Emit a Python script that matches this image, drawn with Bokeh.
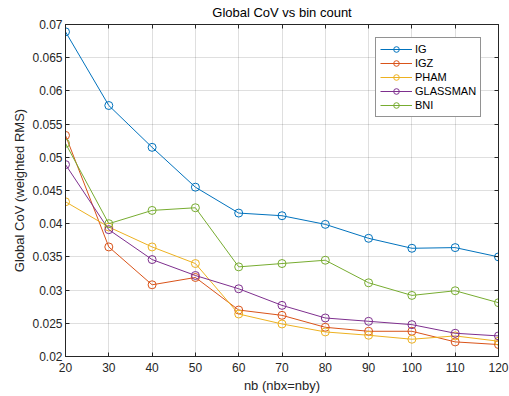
from bokeh.plotting import figure
from bokeh.models import LinearAxis, FixedTicker, CustomJSTickFormatter, Legend, LegendItem, Range1d
from bokeh.embed import file_html
from bokeh.resources import INLINE

nb = [20, 30, 40, 50, 60, 70, 80, 90, 100, 110, 120]
ig = [0.0689, 0.0578, 0.0515, 0.0455, 0.0416, 0.0412, 0.0399, 0.0378, 0.0363, 0.0364, 0.0350]
igz = [0.0533, 0.0365, 0.0308, 0.0319, 0.0270, 0.0262, 0.0244, 0.0238, 0.0238, 0.0222, 0.0218]
pham = [0.0433, 0.0395, 0.0365, 0.0340, 0.0264, 0.0249, 0.0237, 0.0232, 0.0226, 0.0231, 0.0223]
glassman = [0.0489, 0.0391, 0.0346, 0.0322, 0.0302, 0.0277, 0.0258, 0.0253, 0.0248, 0.0235, 0.0231]
bni = [0.0521, 0.0400, 0.0420, 0.0424, 0.0335, 0.0340, 0.0345, 0.0311, 0.0292, 0.0299, 0.0281]

series_names = ["IG", "IGZ", "PHAM", "GLASSMAN", "BNI"]
series_values = [ig, igz, pham, glassman, bni]
colors = ["#0072BD", "#D95319", "#EDB120", "#7E2F8E", "#77AC30"]

x_ticks = [20, 30, 40, 50, 60, 70, 80, 90, 100, 110, 120]
y_ticks = [0.02, 0.025, 0.03, 0.035, 0.04, 0.045, 0.05, 0.055, 0.06, 0.065, 0.07]

FONT = "Liberation Sans"
DARK = "#262626"

p = figure(width=509, height=396, output_backend="svg", toolbar_location=None,
           x_range=Range1d(20, 120), y_range=Range1d(0.02, 0.07),
           min_border_left=65, min_border_right=11, min_border_top=24, min_border_bottom=40)
p.title.text = "Global CoV vs bin count"
p.title.align = "center"
p.title.vertical_align = "top"
p.title.text_font = FONT
p.title.text_font_size = "13px"
p.title.text_font_style = "normal"
p.title.text_color = "#000000"
p.title.standoff = 6
p.outline_line_color = DARK
p.outline_line_width = 1

fmt = CustomJSTickFormatter(code="return tick.toFixed(3).replace(/0+$/, '');")

for ax in [p.xaxis[0], p.yaxis[0]]:
    ax.major_tick_in = 4
    ax.major_tick_out = 0
    ax.minor_tick_in = 0
    ax.minor_tick_out = 0
    ax.axis_line_color = DARK
    ax.major_tick_line_color = DARK
    ax.major_label_text_font = FONT
    ax.major_label_text_font_size = "12px"
    ax.major_label_text_color = DARK
    ax.axis_label_text_font = FONT
    ax.axis_label_text_font_size = "13px"
    ax.axis_label_text_font_style = "normal"
    ax.axis_label_text_color = DARK

p.xaxis[0].ticker = FixedTicker(ticks=x_ticks)
p.yaxis[0].ticker = FixedTicker(ticks=y_ticks)
p.yaxis[0].formatter = fmt
p.xaxis[0].axis_label = "nb (nbx=nby)"
p.yaxis[0].axis_label = "Global CoV (weighted RMS)"
p.xaxis[0].major_label_standoff = 6
p.yaxis[0].major_label_standoff = 3
p.xaxis[0].axis_label_standoff = 3
p.yaxis[0].axis_label_standoff = 2

for loc, ticks in [("right", y_ticks), ("above", x_ticks)]:
    ax = LinearAxis(ticker=FixedTicker(ticks=ticks))
    ax.major_tick_in = 4
    ax.major_tick_out = 0
    ax.minor_tick_in = 0
    ax.minor_tick_out = 0
    ax.axis_line_color = DARK
    ax.major_tick_line_color = DARK
    ax.major_label_text_font_size = "0px"
    ax.major_label_standoff = 0
    ax.major_label_text_alpha = 0
    p.add_layout(ax, loc)

p.xgrid.ticker = FixedTicker(ticks=x_ticks)
p.ygrid.ticker = FixedTicker(ticks=y_ticks)
p.grid.grid_line_color = DARK
p.grid.grid_line_alpha = 0.15

items = []
for name, vals, c in zip(series_names, series_values, colors):
    l = p.line(nb, vals, line_color=c, line_width=1)
    s = p.scatter(nb, vals, marker="circle", size=8, fill_color=None, line_color=c, line_width=1)
    items.append(LegendItem(label=name, renderers=[l, s]))

legend = Legend(items=items, location=(310, 239))
legend.border_line_color = DARK
legend.border_line_width = 1
legend.background_fill_color = "white"
legend.background_fill_alpha = 1
legend.label_text_font = FONT
legend.label_text_font_size = "11px"
legend.label_text_color = "#000000"
legend.glyph_width = 32
legend.glyph_height = 14
legend.label_height = 14
legend.label_standoff = 3
legend.spacing = 0
legend.padding = 4
legend.margin = 0
p.add_layout(legend, "center")

open("out.html", "w").write(file_html(p, INLINE))
